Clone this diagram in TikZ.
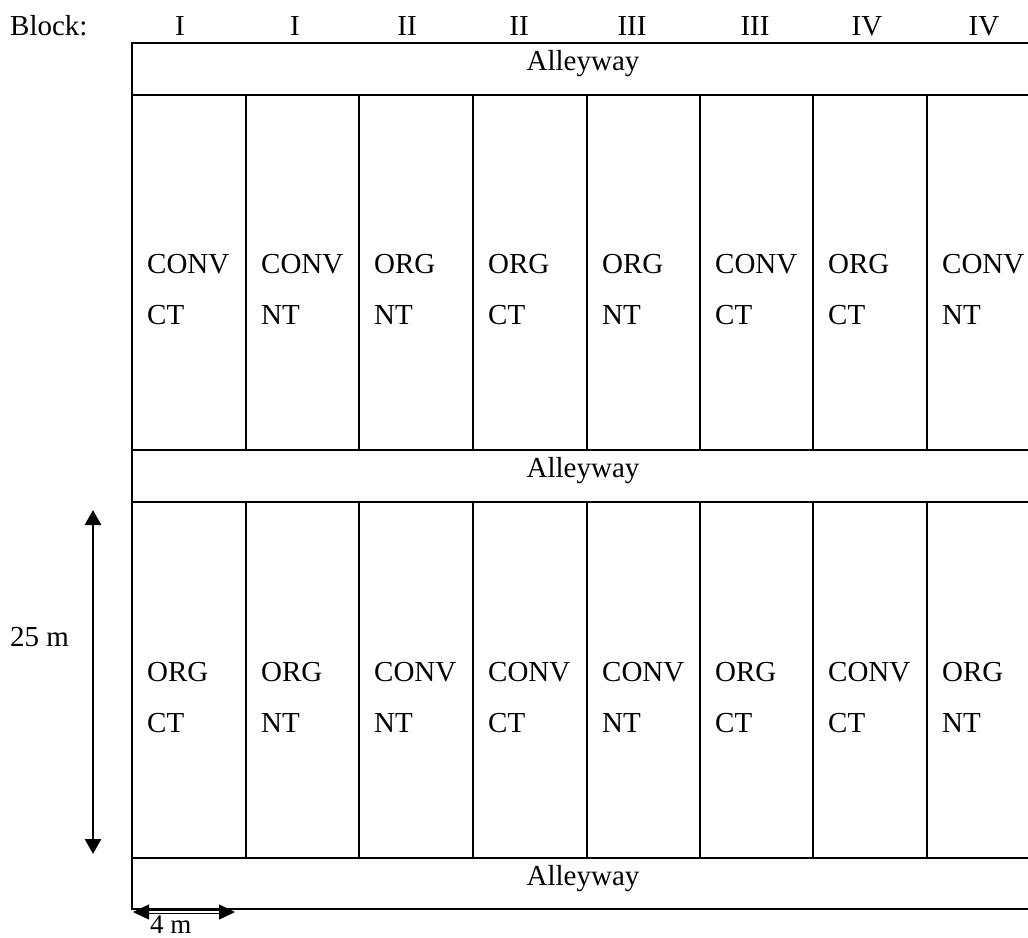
\documentclass[tikz,border=0pt]{standalone}
\usepackage{fontspec}
\setmainfont{Liberation Serif}
\usetikzlibrary{arrows.meta}
\begin{document}
\begin{tikzpicture}[x=1pt,y=-1pt,
  grid/.style={line width=2.2pt,line cap=rect},
  lbl/.style={inner sep=0pt,font=\fontsize{29}{35}\selectfont},
  cell/.style={lbl,anchor=base west},
  ctext/.style={lbl,anchor=base},
  dimarrow/.style={line width=2.6pt,{Triangle[width=16pt,length=15pt]}-{Triangle[width=16pt,length=15pt]}},
  widtharrow/.style={line width=1.2pt,double,double distance=2pt,{Triangle[width=15pt,length=16pt]}-{Triangle[width=15pt,length=16pt]}}]
\useasboundingbox (0,0) rectangle (1028,937);

% block row
\node[lbl,anchor=base west] (blk) at (10,35) {Block:};
\foreach \x/\b [count=\i] in {180/I,295/I,407/II,519/II,632/III,755/III,867/IV,984/IV}
  \node[ctext] (b\i) at (\x,35) {\b};

% outline of the field: left edge and full-width row lines
\draw[grid] (132,43) -- (132,909);
\foreach \y in {43,95,450,502,858,909}
  \draw[grid] (132,\y) -- (1030,\y);
% plot divisions in both plot rows
\foreach \x in {246,359,473,587,700,813,927} {
  \draw[grid] (\x,95) -- (\x,450);
  \draw[grid] (\x,502) -- (\x,858);
}

% alleyways
\node[ctext] (al1) at (583,70) {Alleyway};
\node[ctext] (al2) at (583,477) {Alleyway};
\node[ctext] (al3) at (583,885) {Alleyway};

% upper plots
\foreach \x/\s/\t [count=\i] in {132/CONV/CT,246/CONV/NT,359/ORG/NT,473/ORG/CT,587/ORG/NT,700/CONV/CT,813/ORG/CT,927/CONV/NT} {
  \node[cell] (u\i a) at (\x+15,273) {\s};
  \node[cell] (u\i b) at (\x+15,324) {\t};
}
% lower plots
\foreach \x/\s/\t [count=\i] in {132/ORG/CT,246/ORG/NT,359/CONV/NT,473/CONV/CT,587/CONV/NT,700/ORG/CT,813/CONV/CT,927/ORG/NT} {
  \node[cell] (l\i a) at (\x+15,681) {\s};
  \node[cell] (l\i b) at (\x+15,732) {\t};
}

% plot length
\coordinate (lenTop) at (93,510);
\coordinate (lenBot) at (93,854);
\draw[dimarrow] (lenTop) -- (lenBot);
\node[lbl,anchor=base west] (len) at (10,646) {25 m};

% plot width
\coordinate (wL) at (133,912);
\coordinate (wR) at (235,912);
\draw[widtharrow] (wL) -- (wR);
\node[lbl,anchor=base west,font=\fontsize{27}{33}\selectfont] (wid) at (150,933) {4 m};
\end{tikzpicture}
\end{document}
